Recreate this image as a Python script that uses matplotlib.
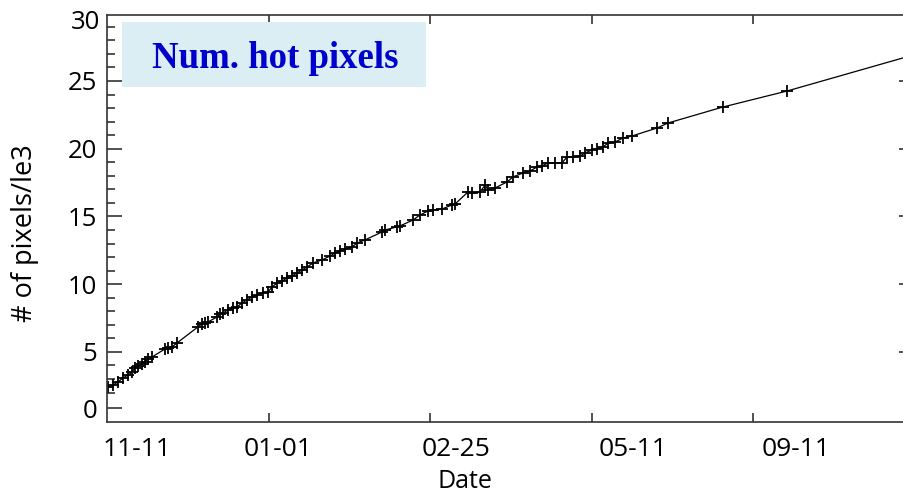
import matplotlib
matplotlib.use("Agg")
import matplotlib.pyplot as plt
from matplotlib.patches import Rectangle
from matplotlib.transforms import blended_transform_factory

# hot pixel count (thousands) against date index
day_pos = [0.006, 0.037, 0.068, 0.099, 0.130, 0.155, 0.173, 0.192, 0.217, 0.235,
           0.254, 0.279, 0.359, 0.378, 0.402, 0.433, 0.563, 0.588, 0.607, 0.625,
           0.681, 0.700, 0.718, 0.749, 0.780, 0.805, 0.836, 0.867, 0.898, 0.929,
           0.966, 0.997, 1.022, 1.053, 1.084, 1.115, 1.146, 1.176, 1.207, 1.238,
           1.276, 1.331, 1.381, 1.412, 1.443, 1.474, 1.517, 1.548, 1.598, 1.703,
           1.721, 1.796, 1.814, 1.895, 1.938, 1.988, 2.019, 2.074, 2.136, 2.155,
           2.235, 2.260, 2.310, 2.341, 2.359, 2.402, 2.477, 2.514, 2.576, 2.619,
           2.663, 2.693, 2.731, 2.774, 2.817, 2.848, 2.885, 2.929, 2.960, 3.003,
           3.034, 3.071, 3.102, 3.146, 3.195, 3.251, 3.406, 3.474, 3.814, 4.211,
           4.972]
hot_pixels = [2.42, 2.56, 2.79, 3.08, 3.30, 3.52, 3.82, 3.97, 4.11, 4.26,
              4.48, 4.63, 5.22, 5.30, 5.37, 5.66, 6.85, 7.07, 7.14, 7.21,
              7.58, 7.80, 7.88, 8.10, 8.25, 8.32, 8.62, 8.84, 9.06, 9.21,
              9.35, 9.43, 9.80, 10.09, 10.24, 10.46, 10.61, 10.83, 11.05, 11.27,
              11.57, 11.79, 12.08, 12.31, 12.45, 12.60, 12.75, 13.04, 13.27, 13.86,
              14.00, 14.23, 14.30, 14.74, 15.11, 15.41, 15.48, 15.55, 15.85, 15.92,
              16.81, 16.73, 16.81, 17.32, 16.96, 17.10, 17.55, 17.92, 18.21, 18.36,
              18.65, 18.73, 18.95, 18.95, 18.95, 19.39, 19.39, 19.46, 19.69, 19.91,
              19.98, 20.13, 20.42, 20.50, 20.79, 20.94, 21.53, 21.90, 23.08, 24.26,
              26.85]

date_labels = ["11-11", "01-01", "02-25", "05-11", "09-11"]
date_label_pos = [0.186, 1.059, 2.161, 3.257, 4.266]
date_tick_pos = [1, 2, 3, 4]

y_major = [0.85, 5, 10, 15, 20, 25]
y_major_labels = ["0", "5", "10", "15", "20", "25"]
y_minor = [v for v in range(2, 30) if v % 5 != 0]

plt.rcParams["font.family"] = ["Open Sans", "DejaVu Sans"]
edge = "#333333"

fig = plt.figure(figsize=(9.04, 4.95), dpi=100)
ax = fig.add_axes([0.1184, 0.1475, 0.8838, 0.8222])

ax.plot(day_pos, hot_pixels, color="black", lw=0.9, marker="+",
        markersize=8.5, markeredgewidth=1.3)

ax.set_xlim(0, 4.947)
ax.set_ylim(-0.17, 29.87)

for s in ax.spines.values():
    s.set_color(edge)
    s.set_linewidth(1.2)

# x axis: labels sit on zero-length major ticks, marks are minor ticks
ax.set_xticks(date_label_pos)
ax.set_xticklabels(date_labels)
ax.set_xticks(date_tick_pos, minor=True)
ax.tick_params(axis="x", which="major", length=0, pad=11, labelsize=19)
ax.tick_params(axis="x", which="minor", direction="in", length=6.5, width=1.2,
               color=edge, top=True, bottom=True)

ax.set_yticks(y_major)
ax.set_yticklabels(y_major_labels)
ax.set_yticks(y_minor, minor=True)
ax.tick_params(axis="y", which="major", direction="in", length=11, width=1.2,
               color=edge, labelsize=18.5, pad=7)
ax.tick_params(axis="y", which="minor", direction="in", length=5.8, width=1.2,
               color=edge)

right = ax.secondary_yaxis("right")
right.set_yticks([5, 10, 15, 20, 25])
right.tick_params(direction="in", length=5, width=1.2, color=edge,
                  labelright=False)
right.spines["right"].set_color(edge)

trans = blended_transform_factory(ax.transAxes, ax.transData)
ax.text(-0.0085, 29.3, "30", transform=trans, ha="right", va="center",
        fontsize=18.5)

fig.text(465 / 904, 1 - 482 / 495, "Date", ha="center", va="center",
         fontsize=18)
fig.text(25 / 904, 1 - 233 / 495, "# of pixels/le3", ha="center",
         va="center", rotation=90, fontsize=19.5)

# title box
fig.patches.append(Rectangle((122 / 904, 1 - 87 / 495), 304 / 904, 65 / 495,
                             transform=fig.transFigure, facecolor="#dbeef4",
                             edgecolor="none", zorder=3))
fig.text(275 / 904, 1 - 68 / 495, "Num. hot pixels", ha="center",
         va="baseline", fontsize=26.5, fontweight="bold", color="#0000cc",
         family="Liberation Serif", zorder=4)

fig.savefig("out.png", dpi=100)
